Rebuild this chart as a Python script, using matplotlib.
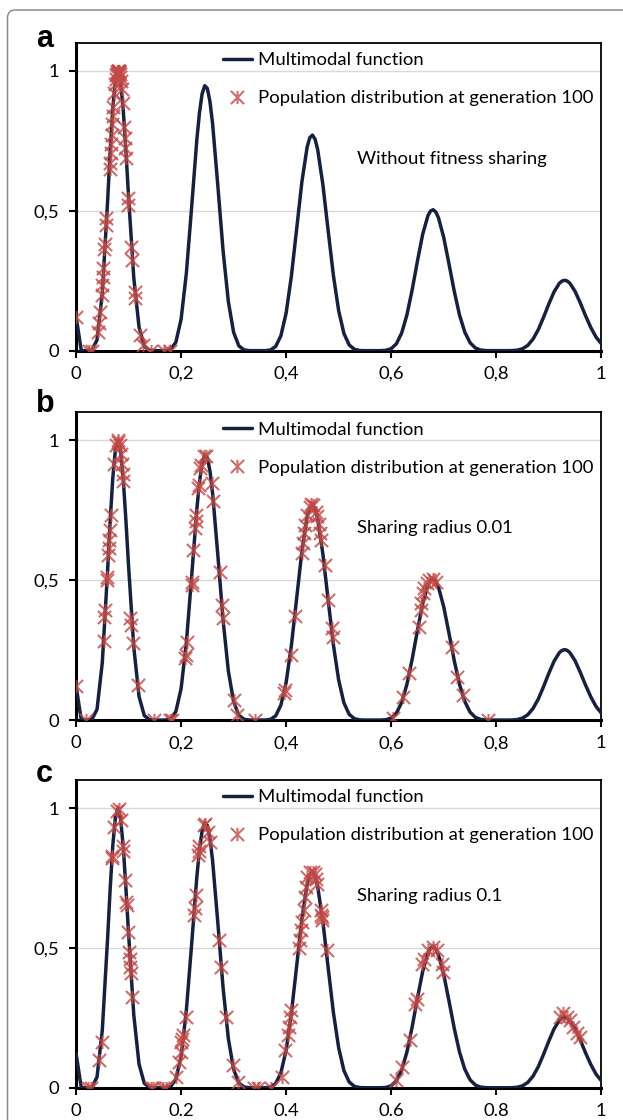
import numpy as np
import matplotlib
matplotlib.use("Agg")
import matplotlib.pyplot as plt
from matplotlib.path import Path
from matplotlib.patches import FancyBboxPatch

plt.rcParams['font.family'] = ['Lato', 'DejaVu Sans']

# multimodal function (x step 0.01 plus a few points near the peaks)
curve_x = np.round(np.linspace(0, 1, 101), 2)
curve_y = [0.1235, 0.0005, 0.0, 0.0015, 0.0382, 0.2047, 0.5293, 0.8653, 1.0, 0.859,
           0.5527, 0.2602, 0.0842, 0.0160, 0.0012, 0.0, 0.0, 0.0001, 0.0042, 0.0300,
           0.1117, 0.2755, 0.5103, 0.7536, 0.9178, 0.9377, 0.8118, 0.5894, 0.3570, 0.1757,
           0.0658, 0.0170, 0.0026, 0.0001, 0.0, 0.0, 0.0001, 0.0023, 0.0147, 0.0530,
           0.1344, 0.2665, 0.4347, 0.6037, 0.7279, 0.7707, 0.7196, 0.5932, 0.4290, 0.2688,
           0.1429, 0.0615, 0.0205, 0.0048, 0.0006, 0.0, 0.0, 0.0, 0.0001, 0.0012,
           0.0071, 0.0249, 0.0634, 0.1283, 0.2184, 0.3207, 0.4166, 0.4829, 0.5039, 0.4752,
           0.4049, 0.3104, 0.2128, 0.1279, 0.0668, 0.0288, 0.0099, 0.0024, 0.0003, 0.0,
           0.0, 0.0, 0.0, 0.0003, 0.0018, 0.0069, 0.0189, 0.0414, 0.0751, 0.1193,
           0.1667, 0.2102, 0.2406, 0.2517, 0.2413, 0.2122, 0.1705, 0.1248, 0.0828, 0.0484,
           0.0250]
peak_x = [0.065, 0.075, 0.085, 0.095, 0.235, 0.245, 0.255, 0.445, 0.455, 0.675, 0.685, 0.925, 0.935]
peak_y = [0.710, 0.9675, 0.960, 0.714, 0.8504, 0.9474, 0.8906, 0.7612, 0.7565, 0.4996, 0.4955, 0.2488, 0.2491]

# population at generation 100
a_x = [0.000, 0.025, 0.030, 0.041, 0.043, 0.045, 0.049, 0.050, 0.051, 0.052, 0.054, 0.055,
       0.057, 0.058, 0.064, 0.065, 0.066, 0.067, 0.068, 0.069, 0.070, 0.071, 0.073, 0.075,
       0.076, 0.077, 0.078, 0.0785, 0.079, 0.0795, 0.080, 0.0805, 0.081, 0.0815, 0.082, 0.083,
       0.084, 0.085, 0.087, 0.089, 0.092, 0.093, 0.094, 0.095, 0.0985, 0.099, 0.104, 0.106,
       0.112, 0.113, 0.122, 0.128, 0.143, 0.168, 0.178]
a_y = [0.12, 0.0, 0.0, 0.065, 0.10, 0.14, 0.20, 0.235, 0.265, 0.295, 0.365, 0.38,
       0.45, 0.475, 0.65, 0.67, 0.705, 0.74, 0.77, 0.81, 0.84, 0.87, 0.92, 0.955,
       0.97, 0.985, 0.995, 0.99, 1.0, 0.99, 1.0, 1.0, 1.0, 0.995, 0.995, 0.99,
       0.98, 0.965, 0.935, 0.885, 0.80, 0.76, 0.725, 0.69, 0.545, 0.52, 0.37, 0.325,
       0.21, 0.19, 0.056, 0.02, 0.0, 0.0, 0.0]

b_x = [0.000, 0.019, 0.0525, 0.054, 0.055, 0.0585, 0.059, 0.0615, 0.062, 0.063, 0.064, 0.066,
       0.072, 0.077, 0.079, 0.080, 0.083, 0.0855, 0.087, 0.089, 0.090, 0.1035, 0.1045, 0.1085,
       0.1175, 0.149, 0.178, 0.182, 0.208, 0.209, 0.211, 0.220, 0.2205, 0.223, 0.227, 0.228,
       0.229, 0.233, 0.234, 0.236, 0.237, 0.243, 0.248, 0.258, 0.261, 0.274, 0.277, 0.280,
       0.300, 0.306, 0.341, 0.396, 0.398, 0.409, 0.417, 0.430, 0.432, 0.434, 0.436, 0.439,
       0.445, 0.448, 0.452, 0.457, 0.459, 0.462, 0.464, 0.466, 0.474, 0.480, 0.487, 0.489,
       0.604, 0.623, 0.633, 0.652, 0.656, 0.657, 0.660, 0.662, 0.668, 0.672, 0.680, 0.686,
       0.715, 0.725, 0.737, 0.785]
b_y = [0.123, 0.0, 0.283, 0.37, 0.394, 0.50, 0.51, 0.59, 0.615, 0.645, 0.68, 0.734,
       0.915, 0.985, 0.995, 1.0, 0.985, 0.95, 0.915, 0.88, 0.855, 0.364, 0.34, 0.275,
       0.125, 0.0, 0.0, 0.0, 0.221, 0.233, 0.28, 0.495, 0.483, 0.609, 0.686, 0.71,
       0.734, 0.83, 0.841, 0.901, 0.913, 0.945, 0.945, 0.847, 0.782, 0.531, 0.412, 0.364,
       0.072, 0.018, 0.0, 0.096, 0.107, 0.233, 0.372, 0.597, 0.633, 0.668, 0.698, 0.734,
       0.762, 0.772, 0.768, 0.745, 0.73, 0.70, 0.67, 0.645, 0.555, 0.43, 0.328, 0.298,
       0.006, 0.083, 0.167, 0.334, 0.394, 0.418, 0.454, 0.472, 0.49, 0.50, 0.505, 0.495,
       0.262, 0.155, 0.09, 0.0]

c_x = [0.022, 0.029, 0.044, 0.049, 0.068, 0.069, 0.073, 0.078, 0.082, 0.085, 0.089, 0.090,
       0.0935, 0.096, 0.0965, 0.0985, 0.101, 0.102, 0.103, 0.104, 0.106, 0.143, 0.146, 0.165,
       0.171, 0.190, 0.197, 0.199, 0.200, 0.202, 0.203, 0.209, 0.225, 0.226, 0.228, 0.233,
       0.234, 0.235, 0.243, 0.246, 0.252, 0.255, 0.273, 0.276, 0.286, 0.298, 0.308, 0.339,
       0.347, 0.372, 0.392, 0.398, 0.403, 0.405, 0.408, 0.410, 0.424, 0.427, 0.429, 0.431,
       0.434, 0.435, 0.437, 0.440, 0.445, 0.452, 0.455, 0.457, 0.459, 0.466, 0.467, 0.469,
       0.468, 0.477, 0.610, 0.620, 0.636, 0.645, 0.649, 0.658, 0.662, 0.671, 0.680, 0.688,
       0.696, 0.699, 0.921, 0.928, 0.934, 0.940, 0.947, 0.953, 0.959]
c_y = [0.0, 0.0, 0.099, 0.164, 0.82, 0.83, 0.932, 0.99, 0.995, 0.956, 0.866, 0.848,
       0.742, 0.664, 0.653, 0.557, 0.486, 0.462, 0.432, 0.409, 0.325, 0.0, 0.0, 0.0,
       0.0, 0.039, 0.093, 0.129, 0.164, 0.176, 0.188, 0.254, 0.617, 0.641, 0.688, 0.831,
       0.848, 0.866, 0.938, 0.944, 0.914, 0.879, 0.528, 0.432, 0.254, 0.081, 0.021, 0.0,
       0.0, 0.0, 0.039, 0.135, 0.188, 0.218, 0.254, 0.278, 0.498, 0.528, 0.564, 0.594,
       0.635, 0.682, 0.718, 0.753, 0.771, 0.771, 0.765, 0.747, 0.73, 0.635, 0.617, 0.599,
       0.611, 0.492, 0.027, 0.075, 0.17, 0.301, 0.319, 0.444, 0.462, 0.492, 0.504, 0.492,
       0.444, 0.414, 0.254, 0.266, 0.254, 0.242, 0.218, 0.194, 0.182]

panels = [
    ('a', a_x, a_y, 'Without fitness sharing', ','),
    ('b', b_x, b_y, 'Sharing radius 0.01', ','),
    ('c', c_x, c_y, 'Sharing radius 0.1', '.'),
]
x_ticks = [0, 0.2, 0.4, 0.6, 0.8, 1]
y_ticks = [0, 0.5, 1]
y_ticklabels = ['0', '0,5', '1']

# sort the curve points
fx = np.concatenate([curve_x, peak_x])
fy = np.concatenate([curve_y, peak_y])
order = np.argsort(fx)
fx, fy = fx[order], fy[order]

star = Path([(-1, -1), (1, 1), (-1, 1), (1, -1), (0, -1), (0, 1)],
            [Path.MOVETO, Path.LINETO, Path.MOVETO, Path.LINETO, Path.MOVETO, Path.LINETO])

line_col = '#15213f'
mark_col = '#c24a47'
fs = 13.3

fig = plt.figure(figsize=(6.23, 11.2), dpi=100)
bottoms = [0.6869, 0.3571, 0.0288]
label_y = [46.7, 411.7, 781.7]

for (lab, px, py, note, sep), b, ly in zip(panels, bottoms, label_y):
    ax = fig.add_axes([0.1220, b, 0.8432, 0.2747])
    ax.plot(fx, fy, color=line_col, lw=2.5, solid_capstyle='round', zorder=3,
            label='Multimodal function')
    ax.plot(px, py, ls='none', marker=star, ms=9.5, mew=1.5, mec=mark_col, alpha=0.8,
            zorder=4, label='Population distribution at generation 100')
    ax.set_xlim(0, 1)
    ax.set_ylim(0, 1.1)
    ax.set_xticks(x_ticks)
    ax.set_xticklabels([('%g' % t).replace('.', sep) for t in x_ticks])
    ax.set_yticks(y_ticks)
    ax.set_yticklabels(y_ticklabels)
    ax.yaxis.grid(True, color='#d9d9d9', lw=1.0, zorder=0)
    ax.set_axisbelow(True)
    for s in ['left', 'bottom']:
        ax.spines[s].set_linewidth(2.2)
    for s in ['top', 'right']:
        ax.spines[s].set_linewidth(1.3)
    ax.tick_params(direction='out', length=5, width=1.5, labelsize=fs, colors='black')
    ax.tick_params(axis='x', pad=6)
    ax.tick_params(axis='y', pad=7)
    ax.legend(loc='upper left', bbox_to_anchor=(0.262, 1.0), frameon=False, fontsize=fs,
              handlelength=1.57, handletextpad=0.33, labelspacing=1.2, borderpad=0.5,
              borderaxespad=0)
    ax.text(0.535, 0.687, note, fontsize=fs, va='center', ha='left')
    fig.text(36 / 623, 1 - ly / 1120, lab, fontsize=22, fontweight='bold',
             family='Liberation Sans', va='baseline')

frame = FancyBboxPatch((0.075, -0.5), 7.0, 11.1 + 0.5,
                       boxstyle='round,pad=0,rounding_size=0.08',
                       transform=fig.dpi_scale_trans, fill=False, ec='#8c8c8c', lw=1.1)
fig.patches.append(frame)

fig.savefig('out.png', dpi=100)
